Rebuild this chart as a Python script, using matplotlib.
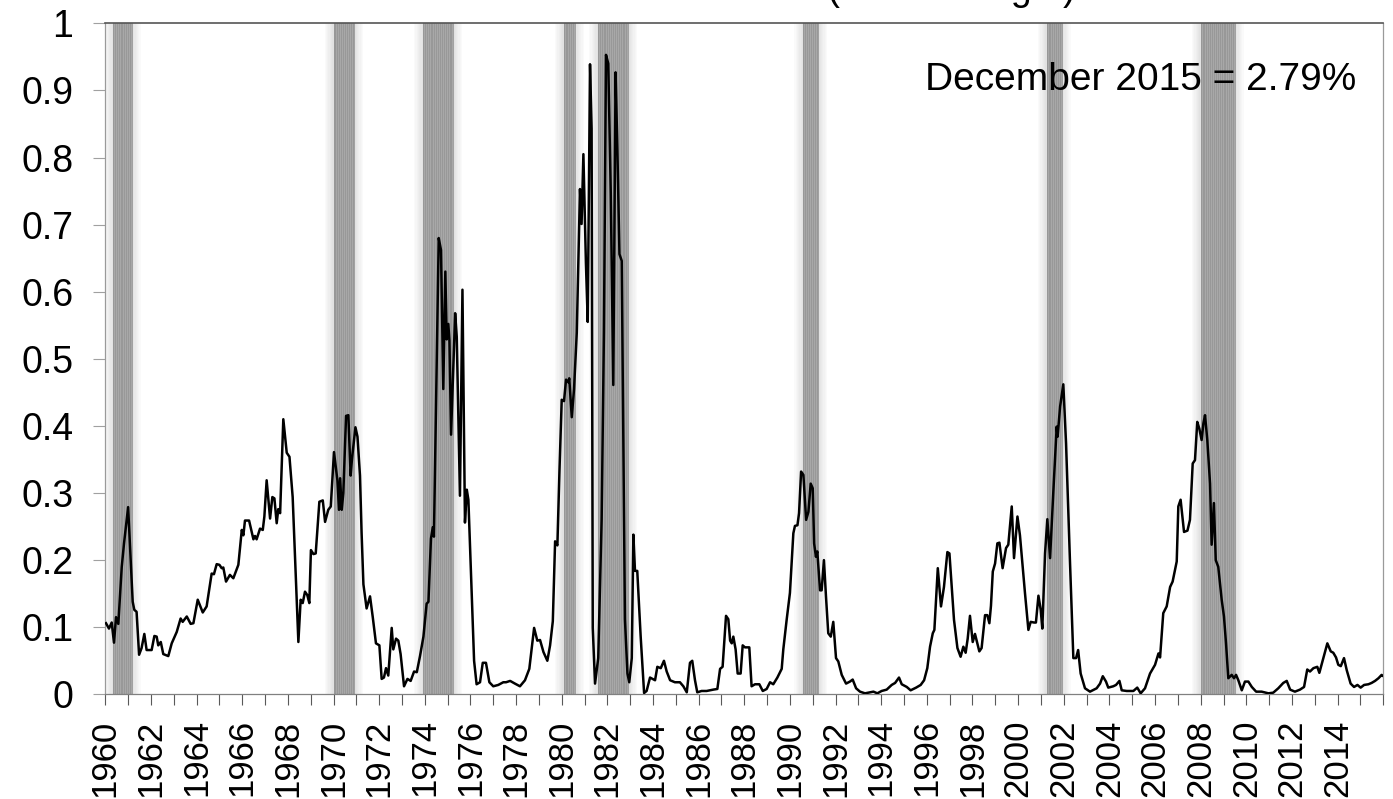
import matplotlib
matplotlib.use("Agg")
import matplotlib.pyplot as plt
import numpy as np

plt.rcParams['font.family'] = ['Liberation Sans', 'DejaVu Sans']

# vertices of the probability line (decimal year, probability)
years = [
    1960.03, 1960.16, 1960.28, 1960.38, 1960.47, 1960.57, 1960.72, 1960.82, 1961.00, 1961.20,
    1961.27, 1961.37, 1961.48, 1961.59, 1961.71, 1961.81, 1962.03, 1962.15, 1962.25, 1962.32,
    1962.43, 1962.54, 1962.76, 1962.91, 1963.13, 1963.30, 1963.39, 1963.57, 1963.74, 1963.86,
    1964.05, 1964.27, 1964.44, 1964.66, 1964.76, 1964.88, 1965.00, 1965.10, 1965.17, 1965.29,
    1965.46, 1965.61, 1965.83, 1965.98, 1966.05, 1966.12, 1966.30, 1966.49, 1966.56, 1966.63,
    1966.78, 1966.90, 1966.97, 1967.07, 1967.22, 1967.32, 1967.41, 1967.51, 1967.58, 1967.66,
    1967.80, 1967.95, 1968.07, 1968.21, 1968.46, 1968.56, 1968.65, 1968.75, 1968.85, 1968.94,
    1969.01, 1969.12, 1969.22, 1969.38, 1969.53, 1969.63, 1969.77, 1969.88,
    1970.02, 1970.17, 1970.24, 1970.29, 1970.36, 1970.43, 1970.55, 1970.65, 1970.75, 1970.81,
    1970.96, 1971.05, 1971.16, 1971.23, 1971.31, 1971.45, 1971.60, 1971.72, 1971.86, 1972.01,
    1972.11, 1972.21, 1972.30, 1972.40, 1972.55, 1972.62, 1972.74, 1972.84, 1972.94, 1973.09,
    1973.24, 1973.38, 1973.53, 1973.65, 1973.79, 1973.94, 1974.08, 1974.16, 1974.27, 1974.35,
    1974.40, 1974.49, 1974.61, 1974.71, 1974.81, 1974.90, 1974.96, 1975.03, 1975.08, 1975.15,
    1975.33, 1975.40, 1975.54, 1975.65, 1975.76, 1975.84, 1975.91, 1976.06, 1976.16, 1976.27,
    1976.42, 1976.54, 1976.68, 1976.83, 1977.00, 1977.22, 1977.44, 1977.56, 1977.74, 1977.95,
    1978.17, 1978.39, 1978.58, 1978.68, 1978.79, 1978.93, 1979.05, 1979.20, 1979.37, 1979.49,
    1979.61, 1979.71, 1979.81, 1979.90, 1980.00,
    1980.10, 1980.19, 1980.29, 1980.33, 1980.44, 1980.54, 1980.66, 1980.80, 1980.87, 1980.95,
    1981.06, 1981.14, 1981.24, 1981.31, 1981.36, 1981.46, 1981.60, 1981.75, 1981.85, 1981.94,
    1982.04, 1982.15, 1982.26, 1982.36, 1982.44, 1982.53, 1982.63, 1982.77, 1982.88, 1982.96,
    1983.07, 1983.14, 1983.21, 1983.31, 1983.46, 1983.61, 1983.72, 1983.87, 1984.09, 1984.19,
    1984.34, 1984.48, 1984.60, 1984.75, 1984.96, 1985.18, 1985.33, 1985.48, 1985.62, 1985.72,
    1985.84, 1985.94, 1986.13, 1986.35, 1986.64, 1986.82, 1986.94, 1987.05, 1987.20, 1987.30,
    1987.38, 1987.45, 1987.52, 1987.62, 1987.71, 1987.84, 1987.93, 1988.03, 1988.22, 1988.32,
    1988.47, 1988.66, 1988.81, 1988.98, 1989.13, 1989.27, 1989.45, 1989.64, 1989.71, 1989.86,
    1990.00, 1990.15, 1990.22, 1990.33, 1990.40, 1990.49, 1990.59, 1990.71, 1990.81, 1990.91,
    1991.00, 1991.06, 1991.14, 1991.20, 1991.32, 1991.39, 1991.49, 1991.58, 1991.68, 1991.79,
    1991.90, 1992.02, 1992.12, 1992.27, 1992.46, 1992.63, 1992.75, 1992.90, 1993.07, 1993.29,
    1993.51, 1993.66, 1993.83, 1994.02, 1994.24, 1994.46, 1994.61, 1994.78, 1994.90, 1995.12,
    1995.29, 1995.53, 1995.73, 1995.88, 1996.02, 1996.14, 1996.26, 1996.33, 1996.48, 1996.62,
    1996.75, 1996.90, 1996.99, 1997.19, 1997.34, 1997.48, 1997.60, 1997.70, 1997.79, 1997.89,
    1998.01, 1998.11, 1998.30, 1998.40, 1998.55, 1998.65, 1998.74, 1998.81, 1998.89, 1998.99,
    1999.09, 1999.18, 1999.32, 1999.47, 1999.57, 1999.72, 1999.82, 1999.97, 2000.08, 2000.30,
    2000.45, 2000.55, 2000.70, 2000.78, 2000.89, 2000.99, 2001.06, 2001.18, 2001.28, 2001.40,
    2001.54, 2001.69, 2001.73, 2001.84, 2001.98, 2002.10, 2002.27, 2002.42, 2002.54, 2002.63,
    2002.74,
    2002.93, 2003.15, 2003.44, 2003.59, 2003.71, 2003.85, 2003.95, 2004.17, 2004.29, 2004.44,
    2004.54, 2004.76, 2005.05, 2005.22, 2005.37, 2005.56, 2005.78, 2006.00, 2006.15, 2006.22,
    2006.36, 2006.51, 2006.66, 2006.77, 2006.95, 2007.02, 2007.12, 2007.27, 2007.42, 2007.53,
    2007.65, 2007.75, 2007.85, 2007.94, 2008.04, 2008.12, 2008.19, 2008.29, 2008.41, 2008.48,
    2008.58, 2008.66, 2008.77, 2008.92, 2009.02, 2009.11, 2009.21, 2009.36, 2009.46, 2009.55,
    2009.65, 2009.80, 2009.94, 2010.09, 2010.24, 2010.43, 2010.67, 2010.97, 2011.18, 2011.40,
    2011.62, 2011.77, 2011.92, 2012.13, 2012.35, 2012.53, 2012.67, 2012.79, 2012.94, 2013.11,
    2013.20, 2013.35, 2013.55, 2013.70, 2013.81, 2013.93, 2014.03, 2014.14, 2014.28, 2014.40,
    2014.57, 2014.72, 2014.87, 2015.01, 2015.16, 2015.35, 2015.49, 2015.64, 2015.79, 2015.93,
    2015.96,
]
probs = [
    0.106, 0.098, 0.107, 0.077, 0.115, 0.105, 0.190, 0.225, 0.279, 0.138,
    0.126, 0.123, 0.059, 0.069, 0.090, 0.066, 0.066, 0.087, 0.086, 0.073,
    0.078, 0.060, 0.057, 0.076, 0.093, 0.113, 0.108, 0.116, 0.105, 0.106,
    0.141, 0.122, 0.131, 0.180, 0.179, 0.194, 0.193, 0.188, 0.189, 0.168,
    0.178, 0.173, 0.193, 0.245, 0.237, 0.259, 0.259, 0.231, 0.236, 0.231,
    0.247, 0.245, 0.265, 0.319, 0.262, 0.294, 0.292, 0.255, 0.276, 0.270,
    0.410, 0.360, 0.354, 0.294, 0.078, 0.141, 0.136, 0.153, 0.148, 0.136,
    0.215, 0.209, 0.210, 0.287, 0.289, 0.257, 0.275, 0.280,
    0.361, 0.319, 0.275, 0.322, 0.275, 0.300, 0.415, 0.416, 0.326, 0.351,
    0.398, 0.384, 0.326, 0.241, 0.164, 0.128, 0.146, 0.115, 0.076, 0.073,
    0.023, 0.025, 0.039, 0.028, 0.099, 0.067, 0.083, 0.080, 0.060, 0.012,
    0.023, 0.020, 0.034, 0.033, 0.057, 0.086, 0.135, 0.138, 0.232, 0.249,
    0.235, 0.423, 0.680, 0.662, 0.455, 0.630, 0.529, 0.552, 0.527, 0.387,
    0.568, 0.533, 0.296, 0.603, 0.256, 0.305, 0.290, 0.144, 0.050, 0.015,
    0.018, 0.047, 0.047, 0.018, 0.012, 0.014, 0.018, 0.018, 0.020, 0.016,
    0.012, 0.021, 0.038, 0.067, 0.099, 0.080, 0.081, 0.063, 0.050, 0.073,
    0.109, 0.228, 0.222, 0.332, 0.439,
    0.437, 0.469, 0.465, 0.471, 0.413, 0.455, 0.539, 0.753, 0.701, 0.805,
    0.643, 0.555, 0.939, 0.843, 0.099, 0.016, 0.054, 0.261, 0.539, 0.953,
    0.940, 0.746, 0.461, 0.927, 0.811, 0.656, 0.646, 0.112, 0.031, 0.018,
    0.054, 0.238, 0.184, 0.184, 0.086, 0.002, 0.005, 0.025, 0.021, 0.041,
    0.039, 0.050, 0.034, 0.021, 0.018, 0.018, 0.012, 0.003, 0.047, 0.050,
    0.021, 0.003, 0.005, 0.005, 0.007, 0.008, 0.038, 0.041, 0.117, 0.112,
    0.080, 0.076, 0.086, 0.067, 0.031, 0.031, 0.073, 0.070, 0.070, 0.012,
    0.015, 0.015, 0.005, 0.008, 0.018, 0.015, 0.025, 0.038, 0.067, 0.112,
    0.151, 0.240, 0.251, 0.252, 0.270, 0.332, 0.327, 0.260, 0.272, 0.314,
    0.307, 0.225, 0.205, 0.213, 0.155, 0.155, 0.200, 0.146, 0.091, 0.086,
    0.108, 0.054, 0.049, 0.029, 0.016, 0.019, 0.022, 0.009, 0.004, 0.0015,
    0.003, 0.004, 0.0015, 0.005, 0.007, 0.014, 0.017, 0.025, 0.015, 0.011,
    0.006, 0.010, 0.014, 0.021, 0.039, 0.071, 0.091, 0.096, 0.188, 0.131,
    0.160, 0.212, 0.210, 0.111, 0.069, 0.056, 0.071, 0.062, 0.083, 0.117,
    0.078, 0.090, 0.064, 0.069, 0.118, 0.118, 0.106, 0.132, 0.183, 0.195,
    0.225, 0.226, 0.188, 0.218, 0.223, 0.280, 0.203, 0.265, 0.237, 0.151,
    0.096, 0.108, 0.107, 0.107, 0.147, 0.126, 0.098, 0.210, 0.261, 0.203,
    0.300, 0.399, 0.384, 0.429, 0.462, 0.374, 0.200, 0.054, 0.054, 0.066,
    0.031,
    0.009, 0.004, 0.009, 0.016, 0.027, 0.019, 0.010, 0.012, 0.014, 0.020,
    0.006, 0.005, 0.005, 0.010, 0.0015, 0.009, 0.031, 0.044, 0.061, 0.055,
    0.121, 0.131, 0.160, 0.168, 0.198, 0.280, 0.290, 0.242, 0.244, 0.260,
    0.344, 0.349, 0.406, 0.396, 0.379, 0.404, 0.416, 0.379, 0.314, 0.223,
    0.285, 0.200, 0.190, 0.141, 0.116, 0.076, 0.024, 0.029, 0.024, 0.029,
    0.021, 0.006, 0.019, 0.019, 0.011, 0.004, 0.004, 0.0015, 0.0025, 0.009,
    0.017, 0.020, 0.007, 0.004, 0.007, 0.011, 0.037, 0.034, 0.039, 0.041,
    0.032, 0.051, 0.076, 0.064, 0.062, 0.055, 0.044, 0.042, 0.054, 0.036,
    0.016, 0.011, 0.014, 0.010, 0.014, 0.015, 0.017, 0.020, 0.024, 0.029,
    0.0279,
]

# recession months (first month, last month)
rec_start = ["1960-05", "1970-01", "1973-12", "1980-02", "1981-08", "1990-08", "2001-04", "2008-01"]
rec_end = ["1961-02", "1970-11", "1975-03", "1980-07", "1982-11", "1991-03", "2001-11", "2009-06"]

y_ticks = [0, 0.1, 0.2, 0.3, 0.4, 0.5, 0.6, 0.7, 0.8, 0.9, 1.0]
y_labels = ["0", "0.1", "0.2", "0.3", "0.4", "0.5", "0.6", "0.7", "0.8", "0.9", "1"]
x_years = list(range(1960, 2017))
note = "December 2015 = 2.79%"
title = "Recession Probabilities (scale on right)"


def month_to_year(s, end=False):
    y, m = s.split("-")
    return int(y) + (int(m) - 1 + (1 if end else 0)) / 12.0


fig = plt.figure(figsize=(13.93, 7.99), dpi=100)
ax = fig.add_axes([0.0756, 0.131, 0.9174, 0.8398])

# recession shading: monthly stripes with a soft halo
for s, e in zip(rec_start, rec_end):
    x0 = month_to_year(s)
    x1 = month_to_year(e, end=True)
    for k in range(1, 8):
        w = 0.055 * k
        ax.axvspan(x0 - w, x0, color='#8a8a8a', alpha=0.035, lw=0, zorder=1)
        ax.axvspan(x1, x1 + w, color='#8a8a8a', alpha=0.035, lw=0, zorder=1)
    ax.axvspan(x0, x1, color='#a8a8a8', lw=0, zorder=2)
    for m in np.arange(x0, x1 + 1e-6, 1 / 12.0):
        ax.axvline(m, color='#969696', lw=0.6, zorder=2)

ax.plot(years, probs, color='black', lw=1.8, zorder=4)

ax.set_xlim(1960, 2016)
ax.set_ylim(0, 1)

ax.set_yticks(y_ticks)
ax.set_yticklabels(y_labels)
ax.set_xticks(x_years)
ax.set_xticklabels([str(y) if (y % 2 == 0 and y < 2016) else "" for y in x_years], rotation=90)

ax.tick_params(axis='y', direction='out', length=9, width=0.8, color='#a0a0a0',
               labelsize=27, pad=14)
ax.tick_params(axis='x', direction='out', length=8, width=0.8, color='#595959',
               labelsize=25, pad=10)

for side in ['left', 'right', 'bottom']:
    ax.spines[side].set_color('#9a9a9a')
    ax.spines[side].set_linewidth(0.9)
ax.spines['top'].set_color('#555555')
ax.spines['top'].set_linewidth(1.2)
ax.spines['bottom'].set_color('#808080')

ax.text(0.979, 0.9155, note, transform=ax.transAxes, ha='right', va='center',
        fontsize=28, zorder=6)

fig.text(1076 / 1393, 1.0, title, ha='right', va='baseline', fontsize=27)

fig.savefig("out.png", dpi=100)
